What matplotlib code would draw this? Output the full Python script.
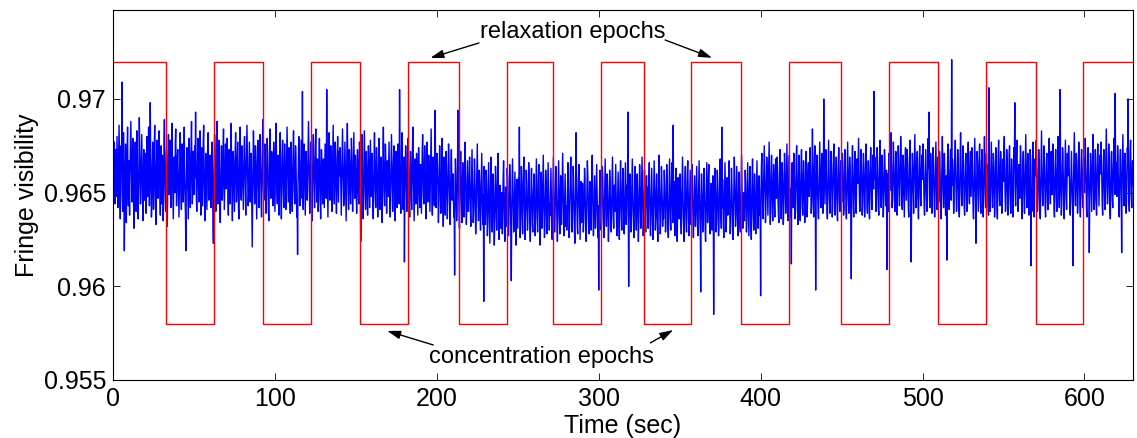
import numpy as np
import matplotlib
matplotlib.use("Agg")
import matplotlib.pyplot as plt

plt.rcParams['font.family'] = ['Liberation Sans', 'DejaVu Sans']

# fringe visibility, 0.25 s per sample, one row = 10 s
# values in units of 1e-4 above 0.958
vis_rows = [
    "84 91 73 99 86 66 78 95 70 88 102 81 64 75 93 108 87 69 58 76 97 83 131 71 62 90 104 79 41 67 85 98 74 56 81 94 107 77 65 89",
    "72 60 83 96 110 92 78 67 89 101 85 64 53 71 88 99 76 62 94 105 90 73 58 69 84 112 97 80 66 75 91 103 86 70 57 79 95 82 68 87",
    "93 76 61 88 102 84 70 96 107 79 65 82 120 91 74 59 68 87 99 81 63 72 95 108 86 67 55 78 92 100 83 69 77 94 105 88 71 60 85 97",
    "66 79 92 84 57 70 98 111 87 73 62 81 95 76 54 68 90 103 85 71 88 100 79 64 75 93 109 82 69 58 77 91 86 72 99 106 83 65 74 90",
    "95 82 68 59 76 89 104 93 71 63 86 98 80 67 72 91 107 84 69 61 41 74 88 96 83 70 58 79 101 92 77 64 85 99 110 81 66 73 94 87",
    "71 88 97 80 115 86 69 62 78 94 101 83 67 74 90 105 87 60 72 96 84 65 79 99 108 82 70 57 76 93 89 74 63 81 98 104 85 68 77 91",
    "92 76 64 71 86 99 83 58 45 70 88 103 95 77 62 74 91 110 84 66 79 93 100 81 65 56 72 89 97 85 68 77 94 106 82 63 75 90 98 80",
    "74 87 101 92 69 60 78 95 84 66 73 98 109 85 70 57 81 94 88 75 62 79 96 104 83 67 72 90 99 86 64 58 77 93 107 82 71 68 89 97",
    "85 70 63 79 96 102 88 74 60 82 95 108 91 76 65 71 87 99 83 67 78 93 84 62 43 69 90 105 94 77 66 81 97 89 73 58 76 92 100 84",
    "71 64 88 103 95 80 67 59 77 92 111 86 72 68 84 98 90 75 61 70 89 101 93 78 63 57 74 96 106 83 69 79 94 87 72 65 82 99 91 76",
    "62 80 97 109 88 73 66 84 92 78 60 71 95 104 86 69 58 77 93 100 85 72 64 81 98 90 76 63 74 89 107 94 79 67 83 96 88 70 61 86",
    "99 84 71 62 78 93 105 87 73 66 81 97 90 76 59 68 39 74 89 102 95 80 65 72 88 100 83 69 126 77 63 86 98 91 75 60 79 94 85 71",
    "68 82 96 110 92 76 61 70 87 99 84 73 57 79 94 103 88 72 64 81 97 106 85 67 74 90 78 62 69 93 101 87 75 58 80 95 89 71 66 84",
    "90 77 64 83 98 86 72 69 127 88 74 59 76 93 104 85 68 80 97 91 73 62 78 95 108 87 70 66 83 99 92 76 61 71 89 102 84 67 79 94",
    "81 96 88 72 60 75 91 106 93 78 65 70 86 99 84 68 57 79 97 109 90 74 63 82 95 87 71 66 80 101 94 77 62 73 88 104 85 69 76 92",
    "84 70 61 79 95 88 73 66 82 99 91 76 46 68 86 103 80 65 58 74 92 105 87 71 63 77 94 84 69 60 78 97 89 73 64 81 100 86 70 75",
    "93 79 66 58 75 90 104 85 71 64 80 96 88 72 59 69 87 101 92 77 63 74 91 83 67 56 78 95 107 86 71 65 82 98 90 76 61 73 89 84",
    "70 86 99 81 67 59 74 92 103 88 75 62 71 89 97 83 68 57 79 94 86 73 64 80 98 90 77 66 127 85 72 61 78 96 104 87 69 63 82 91",
    "35 68 84 97 89 74 62 70 86 101 92 78 65 59 76 94 85 71 63 80 98 107 83 69 57 73 90 82 66 75 93 86 72 60 79 96 88 74 64 81",
    "87 73 61 77 95 103 84 70 66 82 97 89 74 58 69 86 99 80 67 75 92 83 71 62 78 94 106 85 68 60 76 91 87 72 65 81 116 79 64 88",
    "79 95 86 70 58 67 84 99 90 74 63 72 88 103 82 68 56 75 93 85 71 62 79 96 87 73 60 69 83 100 91 76 65 57 74 89 97 81 70 78",
    "84 72 61 68 30 79 92 86 70 59 66 81 118 88 74 63 55 71 87 96 80 67 58 73 90 84 69 61 76 93 101 82 68 57 65 79 91 77 64 72",
    "80 93 78 64 56 70 85 97 81 66 58 63 77 92 84 69 52 61 74 89 100 83 67 59 71 86 79 63 54 68 82 95 76 62 57 73 16 88 70 65",
    "61 74 90 83 67 55 62 79 94 80 66 51 69 85 97 78 63 57 72 88 81 65 50 60 76 92 84 68 58 71 86 99 77 62 53 67 82 74 59 70",
    "78 64 56 69 87 95 79 63 52 66 81 73 60 74 91 84 67 55 62 77 93 86 70 58 31 65 80 96 83 68 57 61 75 89 78 64 50 72 85 71",
    "59 72 86 79 113 66 54 61 77 92 83 67 56 70 88 97 81 64 53 68 75 90 82 66 58 63 79 94 86 71 60 52 69 84 91 76 62 57 73 80",
    "88 74 61 55 68 83 96 79 64 57 71 86 93 77 62 50 66 81 89 74 59 69 85 98 80 65 54 60 76 90 84 70 56 63 79 94 82 67 58 72",
    "66 80 91 75 60 53 69 85 97 82 68 57 64 78 92 86 71 59 52 67 83 95 79 63 56 70 87 76 61 74 90 99 81 66 55 62 77 88 73 60",
    "71 58 65 82 94 80 67 54 61 76 89 97 83 69 57 63 78 92 85 70 59 51 66 81 110 87 72 60 56 73 86 93 79 64 53 68 84 77 62 70",
    "83 69 57 62 78 91 85 71 60 52 67 80 95 88 73 61 56 70 84 79 64 58 74 89 98 82 66 55 63 76 87 72 59 68 81 93 78 65 54 71",
    "26 66 79 90 84 70 58 63 77 92 86 72 59 54 69 83 96 81 67 60 73 88 79 64 52 61 75 90 85 71 62 57 70 86 97 80 66 59 74 82",
    "68 81 93 77 63 55 66 80 89 74 60 53 71 86 95 79 65 58 72 84 91 78 62 56 69 83 94 76 61 67 82 74 121 70 28 64 79 88 73 62",
    "57 71 85 96 81 67 60 54 69 83 92 78 64 58 73 88 80 66 52 62 77 93 86 71 59 65 82 97 84 68 55 61 76 90 79 63 57 70 87 74",
    "81 66 59 72 87 94 78 63 55 68 84 91 75 61 53 67 80 95 83 70 58 64 79 88 74 60 52 69 86 98 82 67 56 62 77 92 85 71 60 73",
    "64 78 90 83 68 57 61 76 93 85 70 59 54 67 82 96 79 65 58 72 87 94 77 62 114 71 84 66 55 63 80 91 74 60 52 69 86 78 64 70",
    "75 88 79 63 56 70 85 97 81 66 58 52 68 83 92 77 62 57 71 89 95 80 64 55 67 82 90 74 61 69 84 93 78 62 54 66 81 87 72 60",
    "67 81 92 76 61 55 69 84 95 79 64 58 25 73 88 82 68 57 63 78 91 85 70 59 52 66 80 94 77 62 71 86 93 75 60 56 70 83 79 65",
    "58 72 87 80 13 66 79 91 84 69 57 62 76 90 83 67 55 60 74 88 96 81 65 59 113 70 85 77 61 54 68 82 94 78 63 57 71 86 80 66",
    "73 87 95 79 64 56 62 77 91 84 69 58 53 67 81 97 86 71 60 66 80 92 78 63 55 68 83 89 74 61 57 70 85 98 82 67 59 64 78 72",
    "63 76 90 83 68 57 62 79 94 81 66 55 71 86 92 77 61 53 69 84 96 80 65 58 72 88 79 64 56 67 82 95 76 62 59 73 87 81 66 70",
    "19 74 88 95 80 66 60 72 86 99 84 70 58 65 79 93 87 73 62 76 90 101 83 68 57 71 85 94 78 64 59 75 89 82 69 61 77 92 86 71",
    "79 93 84 70 62 58 73 88 97 81 67 60 76 90 85 71 57 64 80 95 89 74 63 69 84 100 82 66 59 72 87 94 78 65 61 76 36 83 90 74",
    "66 80 95 87 72 60 64 79 92 99 83 68 57 71 86 94 77 63 59 74 89 97 81 67 62 76 91 85 70 58 65 82 96 88 73 61 69 84 90 77",
    "72 85 98 89 74 63 67 81 108 86 70 61 76 92 99 83 22 69 78 94 88 73 64 60 75 90 101 84 71 66 80 95 87 72 63 77 124 90 79 68",
    "84 97 90 75 64 60 73 88 102 86 71 63 69 83 96 89 74 61 67 81 94 100 85 70 62 72 87 93 78 65 59 74 89 98 82 68 64 79 91 76",
    "69 83 95 88 73 62 66 80 97 91 76 64 60 74 89 101 84 70 63 78 93 86 71 65 28 77 90 99 82 68 61 72 87 96 81 67 63 76 92 85",
    "79 92 103 87 72 64 69 83 97 90 75 62 67 81 95 88 73 61 70 86 100 93 78 66 63 77 91 84 70 60 74 89 98 85 71 65 80 94 87 76",
    "130 83 95 90 76 66 71 86 100 92 78 67 64 79 94 104 87 73 68 82 96 89 75 63 70 85 99 93 79 69 74 88 35 86 72 66 81 97 90 77",
    "85 99 108 92 77 68 73 89 103 95 81 70 66 84 98 91 76 64 72 88 101 94 80 69 75 90 106 97 83 71 67 82 96 89 74 63 79 93 100 86",
    "72 87 99 93 78 67 63 80 95 104 88 74 39 70 85 97 90 76 65 82 94 107 91 77 68 73 89 98 84 70 62 79 92 101 87 73 69 84 96 83",
    "90 102 95 80 69 64 76 91 99 86 73 66 79 94 105 89 119 75 68 83 97 92 78 65 71 87 100 94 81 70 63 77 90 103 88 74 67 80 95 85",
    "71 86 98 92 77 66 62 79 93 106 90 75 68 82 97 88 73 64 70 85 40 81 95 102 87 74 67 78 91 99 84 72 147 80 94 89 76 65 73 88",
    "96 104 89 75 66 71 85 99 92 78 67 63 80 94 108 90 76 69 74 87 101 93 79 68 64 77 91 97 83 72 66 81 95 103 88 74 70 84 98 86",
    "74 89 100 93 79 67 62 76 92 105 88 73 49 71 86 98 91 77 66 80 95 102 87 72 65 78 94 99 84 69 63 79 93 106 90 75 68 82 97 85",
    "91 83 70 64 132 88 75 66 79 95 103 89 74 68 82 97 92 77 63 71 86 100 93 78 67 62 80 96 104 87 73 69 84 98 91 76 65 72 88 94",
    "82 97 106 90 75 66 70 85 99 93 78 64 68 83 96 101 87 72 65 79 94 89 74 63 71 86 100 92 124 77 69 80 95 104 88 73 66 78 91 84",
    "73 88 101 94 79 67 62 77 92 98 84 71 65 80 95 107 89 75 68 82 97 90 76 64 70 86 99 93 37 78 66 81 96 103 87 72 63 79 94 85",
    "92 104 88 74 66 71 86 99 93 78 65 62 79 94 109 90 76 69 74 88 101 95 80 68 63 77 91 97 83 71 67 82 96 105 89 75 70 85 98 84",
    "75 90 102 95 80 67 63 78 92 99 86 72 66 81 96 106 89 74 68 83 131 93 79 64 70 86 100 94 81 69 62 77 91 104 88 73 67 82 97 85",
    "89 101 94 79 68 64 76 91 98 85 72 66 37 82 95 108 90 75 69 84 97 92 78 65 71 87 103 96 80 70 63 79 93 99 86 74 68 81 95 88",
    "76 92 105 96 81 68 63 78 93 100 87 73 44 70 85 97 91 77 66 82 94 107 89 74 67 72 88 99 84 70 64 80 95 102 90 75 69 83 96 86",
    "90 103 95 80 69 64 77 92 99 87 73 67 81 96 110 91 76 70 74 89 102 94 79 66 62 78 93 98 85 72 68 83 97 105 88 75 129 84 92 79",
    "74 89 101 94 79 67 63 78 93 99 86 72 44 81 96 107 90 76 69 83 97 92 78 65 71 87 100 95 126 80 70 66 82 98 104 89 75 68 84 93",
    "80",
]
# local level correction per 10 s row (same units)
row_offset = [-2] * 20 + [-4, -4, -4] + [-8] * 17 + [-4] * 7 + [-6] * 17
vis_base = 0.958
vis_unit = 1e-4
row_seconds = 10
sample_dt = 0.25

# epoch switching times (sec) and reference levels
epoch_edges = [32.6, 62.2, 92.9, 122.3, 152.8, 182.3, 214.0, 243.3, 271.9, 301.4,
               328.0, 357.2, 388.1, 417.4, 449.9, 479.2, 509.3, 538.9, 569.8, 599.1]
level_high = 0.972
level_low = 0.958

# build time/value arrays
t = []
v = []
for k, row in enumerate(vis_rows):
    for j, s in enumerate(row.split()):
        t.append(k * row_seconds + j * sample_dt)
        v.append(vis_base + (int(s) + row_offset[k]) * vis_unit)
t = np.array(t)
v = np.array(v)

t_max = t[-1]
ep_t = [0.0] + epoch_edges + [t_max]
ep_v = []
for i in range(len(epoch_edges) + 1):
    ep_v.append(level_high if i % 2 == 0 else level_low)
ep_v.append(ep_v[-1])

fig = plt.figure(figsize=(11.37, 4.38), dpi=100)
ax = fig.add_axes([113/1137, 1 - 380/438, (1133 - 113)/1137, (380 - 10)/438])

ax.plot(t, v, color='#0000ff', lw=1.0)
ax.step(ep_t, ep_v, where='post', color='#ff0000', lw=1.0)

ax.set_xlim(0, t_max)
ax.set_ylim(0.955, 0.97475)
ax.set_xticks([0, 100, 200, 300, 400, 500, 600])
ax.set_yticks([0.955, 0.96, 0.965, 0.97])
ax.set_yticklabels(['0.955', '0.96', '0.965', '0.97'])
ax.tick_params(direction='in', top=True, right=True, length=5, width=0.6,
               labelsize=18, pad=5)
for sp in ax.spines.values():
    sp.set_linewidth(0.8)

ax.set_xlabel('Time (sec)', fontsize=18, labelpad=2)
ax.set_ylabel('Fringe visibility', fontsize=18, labelpad=3)

arrow = dict(arrowstyle='-|>,head_length=0.8,head_width=0.25', color='k', lw=1.0,
             shrinkA=0, shrinkB=0)
ax.text(283.7, 0.97360, 'relaxation epochs', ha='center', va='center', fontsize=17)
ax.annotate('', xy=(196, 0.97219), xytext=(226, 0.97299), arrowprops=arrow)
ax.annotate('', xy=(370, 0.9722), xytext=(341, 0.97315), arrowprops=arrow)

ax.text(264.5, 0.95623, 'concentration epochs', ha='center', va='center', fontsize=17)
ax.annotate('', xy=(169.3, 0.95762), xytext=(197.8, 0.95687), arrowprops=arrow)
ax.annotate('', xy=(346, 0.95767), xytext=(331.9, 0.95698), arrowprops=arrow)

fig.savefig('out.png', dpi=100)
